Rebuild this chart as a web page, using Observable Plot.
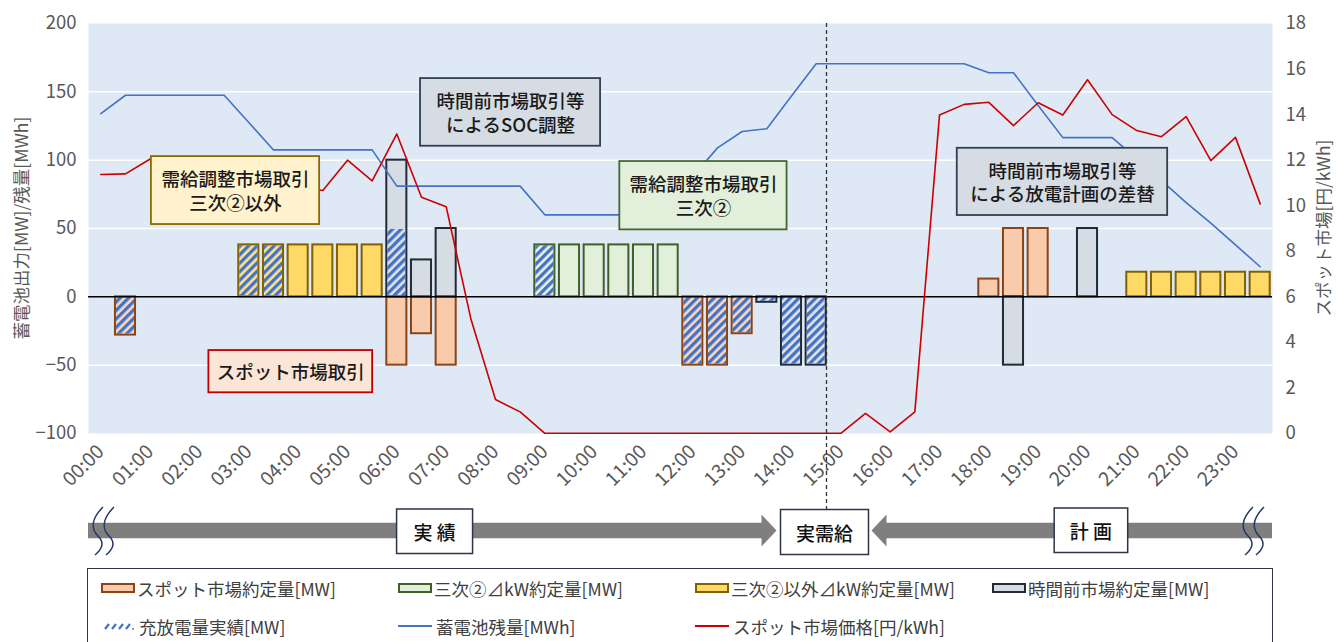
<!DOCTYPE html>
<html><head><meta charset="utf-8">
<script src="https://cdn.jsdelivr.net/npm/d3@7"></script>
<script src="https://cdn.jsdelivr.net/npm/@observablehq/plot@0.6"></script>
<style>
body{margin:0;background:#fff;font-family:"Noto Sans CJK JP","Noto Sans",sans-serif;}
#wrap{position:relative;width:1343px;height:642px;overflow:hidden;background:#fff;}
#chart{position:absolute;left:0;top:0;}
#legend{position:absolute;left:87px;top:568px;width:1186px;height:100px;border:1.5px solid #2b3545;box-sizing:border-box;}
.item{position:absolute;display:flex;align-items:center;height:24px;font-size:17.5px;color:#404040;white-space:nowrap;}
.sw{width:34px;height:10px;box-sizing:border-box;border:2.5px solid;margin-right:2px;}
</style></head><body><div id="wrap"><div id="chart"></div><div id="legend"></div></div>
<script>
// ---- data ----
const times = ["00:00","00:30","01:00","01:30","02:00","02:30","03:00","03:30","04:00","04:30","05:00","05:30",
"06:00","06:30","07:00","07:30","08:00","08:30","09:00","09:30","10:00","10:30","11:00","11:30",
"12:00","12:30","13:00","13:30","14:00","14:30","15:00","15:30","16:00","16:30","17:00","17:30",
"18:00","18:30","19:00","19:30","20:00","20:30","21:00","21:30","22:00","22:30","23:00","23:30"];

const spotTimes = ["00:30","06:00","06:30","07:00","12:00","12:30","13:00","18:00","18:30","19:00"];
const spotMW    = [-28, -50, -27, -50, -50, -50, -27, 13, 50, 50];

const jikanTimes = ["06:00","06:30","07:00","13:30","14:00","14:30","18:30","20:00"];
const jikanMW    = [100, 27, 50, -4, -50, -50, -50, 50];

const sanjiTimes = ["09:00","09:30","10:00","10:30","11:00","11:30"];
const sanjiMW    = [38, 38, 38, 38, 38, 38];

const igaiTimes = ["03:00","03:30","04:00","04:30","05:00","05:30","21:00","21:30","22:00","22:30","23:00","23:30"];
const igaiMW    = [38, 38, 38, 38, 38, 38, 18, 18, 18, 18, 18, 18];

const actualTimes = ["00:30","03:00","03:30","06:00","09:00","12:00","12:30","13:00","13:30","14:00","14:30"];
const actualMW    = [-28, 38, 38, 50, 38, -50, -50, -27, -4, -50, -50];

const socMWh = [134,147.5,147.5,147.5,147.5,147.5,127.5,107.5,107.5,107.5,107.5,107.5,
81,81,81,81,81,81,60,60,60,60,65,75,
88,109,121,123,147,170.5,170.5,170.5,170.5,170.5,170.5,170.5,
164,164,140,116.5,116.5,116.5,101,85,69,54,38,22];

const priceYen = [11.37,11.4,12.05,11.9,11.6,11.4,11.2,11.0,10.8,10.67,12.0,11.09,
13.15,10.37,9.96,5.04,1.49,0.95,0.01,0.01,0.01,0.01,0.01,0.01,
0.01,0.01,0.01,0.01,0.01,0.01,0.01,0.88,0.07,0.95,13.98,14.45,
14.54,13.52,14.52,13.98,15.53,14.0,13.3,13.03,13.91,11.98,13.0,10.08];

const leftTicks = [-100,-50,0,50,100,150,200];
const priceTicks = [0,2,4,6,8,10,12,14,16,18];

const annotations = [
  {label:"需給調整市場取引\n三次②以外", x1:2.55, x2:9.37, y1:52.9, y2:102.6, fill:"#FFF2CC", stroke:"#8A6A00"},
  {label:"時間前市場取引等\nによるSOC調整", x1:13.46, x2:20.76, y1:110.2, y2:159.7, fill:"#D6DCE4", stroke:"#333F50"},
  {label:"需給調整市場取引\n三次②", x1:21.54, x2:28.32, y1:49, y2:99, fill:"#E2EFDA", stroke:"#44692E"},
  {label:"スポット市場取引", x1:4.88, x2:11.52, y1:-70.2, y2:-39.3, fill:"#FBE5D6", stroke:"#C00000"},
  {label:"時間前市場取引等\nによる放電計画の差替", x1:35.22, x2:43.75, y1:59.5, y2:108.7, fill:"#D6DCE4", stroke:"#333F50"}
];

// ---- helpers ----
const idx = t => times.indexOf(t);
const toLeft = p => -100 + p * 300 / 18;
const bars = (ts, vs) => ts.map((t, k) => ({i: idx(t), v: vs[k]}));
const spot = bars(spotTimes, spotMW);
const jikan = bars(jikanTimes, jikanMW);
const sanji = bars(sanjiTimes, sanjiMW);
const igai = bars(igaiTimes, igaiMW);
const actual = bars(actualTimes, actualMW);
const soc = socMWh.map((v, i) => ({i, v}));
const price = priceYen.map((p, i) => ({i, p}));
const hourTicks = times.map((t, i) => i).filter(i => i % 2 === 0).map(i => i + 0.5);
const gridVals = leftTicks.filter(v => v !== 0 && v !== 200 && v !== -100);

const FONT = '"Noto Sans CJK JP","Noto Sans",sans-serif';
const ins = 2.3;
const barMark = (data, fill, stroke) => Plot.rect(data, {
  x1: d => d.i, x2: d => d.i + 1, y1: () => 0, y2: d => d.v,
  fill, stroke, strokeWidth: 2, insetLeft: ins, insetRight: ins
});

const plot = Plot.plot({
  width: 1343, height: 560,
  marginLeft: 88, marginRight: 71, marginTop: 23, marginBottom: 127,
  style: {fontFamily: FONT, fontSize: "18px", color: "#595959", background: "transparent"},
  x: {domain: [0, times.length], axis: null},
  y: {domain: [-100, 200], axis: null},
  color: {type: "identity"},
  marks: [
    Plot.frame({fill: "#DEE9F5", stroke: null}),
    Plot.ruleY(gridVals, {stroke: "white", strokeWidth: 1.5}),
    Plot.axisY(leftTicks, {anchor: "left", tickSize: 0, tickPadding: 12, fontSize: 18.5, label: null}),
    Plot.axisY(priceTicks.map(toLeft), {anchor: "right", tickSize: 0, tickPadding: 13, fontSize: 18.5, label: null,
      tickFormat: v => String(Math.round((v + 100) * 18 / 300))}),
    Plot.axisX(hourTicks, {anchor: "bottom", tickSize: 0, tickPadding: 15, tickRotate: -45, fontSize: 19.5, label: null,
      tickFormat: d => times[Math.floor(d)]}),
    barMark(spot, "#F8CBAD", "#8C4414"),
    barMark(jikan, "#D6DCE4", "#222A35"),
    barMark(sanji, "#E2EFDA", "#40602A"),
    barMark(igai, "#FFD966", "#806000"),
    Plot.rect(actual, {x1: d => d.i, x2: d => d.i + 1, y1: () => 0, y2: d => d.v,
      fill: "url(#hatch)", insetLeft: ins + 1, insetRight: ins + 1, insetTop: 1, insetBottom: 1}),
    Plot.ruleY([0], {stroke: "#000", strokeWidth: 1.5}),
    Plot.line(soc, {x: d => d.i + 0.5, y: "v", stroke: "#4472C4", strokeWidth: 1.6}),
    Plot.line(price, {x: d => d.i + 0.5, y: d => toLeft(d.p), stroke: "#CC0000", strokeWidth: 1.6}),
    Plot.rect(annotations, {x1: "x1", x2: "x2", y1: "y1", y2: "y2", fill: "fill", stroke: "stroke", strokeWidth: 1.8}),
    Plot.text(annotations, {x: d => (d.x1 + d.x2) / 2, y: d => (d.y1 + d.y2) / 2, text: "label",
      fontSize: 18.5, fill: "#1a1a1a", lineHeight: 1.28, fontWeight: 500})
  ]
});

const svg = d3.select(plot);
const xs = v => plot.scale("x").apply(v);
const ys = v => plot.scale("y").apply(v);

// hatch pattern
const defs = svg.insert("defs", ":first-child");
const pat = defs.append("pattern").attr("id", "hatch").attr("patternUnits", "userSpaceOnUse")
  .attr("width", 6).attr("height", 6).attr("patternTransform", "rotate(45)");
pat.append("rect").attr("width", 6).attr("height", 6).attr("fill", "rgba(255,255,255,0.25)");
pat.append("rect").attr("width", 3.3).attr("height", 6).attr("fill", "#4472C4");

// axis titles
svg.append("text").attr("transform", `translate(20,${(ys(200) + ys(-100)) / 2}) rotate(-90)`)
  .attr("text-anchor", "middle").attr("dominant-baseline", "central")
  .attr("font-size", 17.5).attr("fill", "#595959").attr("font-family", FONT).text("蓄電池出力[MW]/残量[MWh]");
svg.append("text").attr("transform", `translate(1322,${(ys(200) + ys(-100)) / 2}) rotate(-90)`)
  .attr("text-anchor", "middle").attr("dominant-baseline", "central")
  .attr("font-size", 17.5).attr("fill", "#595959").attr("font-family", FONT).text("スポット市場[円/kWh]");

// timeline
const g = svg.append("g");
const x0 = xs(0), x1 = xs(times.length), xb = xs(idx("15:00")) - 1.5;
const yc = 530.5, hb = 7.8, ha = 16;
const leftTip = xb - 50, rightTip = xb + 45;
g.append("polygon").attr("fill", "#7F7F7F").attr("points", [
  [x0, yc - hb], [leftTip - 15, yc - hb], [leftTip - 15, yc - ha], [leftTip, yc], [leftTip - 15, yc + ha], [leftTip - 15, yc + hb], [x0, yc + hb]
].map(p => p.join(",")).join(" "));
g.append("polygon").attr("fill", "#7F7F7F").attr("points", [
  [x1, yc - hb], [rightTip + 15, yc - hb], [rightTip + 15, yc - ha], [rightTip, yc], [rightTip + 15, yc + ha], [rightTip + 15, yc + hb], [x1, yc + hb]
].map(p => p.join(",")).join(" "));
// dashed boundary
g.append("line").attr("x1", xb).attr("x2", xb).attr("y1", ys(200)).attr("y2", 509)
  .attr("stroke", "#333").attr("stroke-width", 1.3).attr("stroke-dasharray", "4,3");
// wavy breaks
function wave(x) {
  return `M${x + 6},507 C${x - 6},519 ${x - 6},529 ${x + 1},536 S${x + 5},549 ${x - 2},555`;
}
[x0 + 9, x0 + 20, x1 - 25, x1 - 14].forEach(x => g.append("path").attr("d", wave(x))
  .attr("fill", "none").attr("stroke", "#1F3864").attr("stroke-width", 1.5));
// boxes
const tboxes = [
  {label: "実 績", cx: xs(14.05), w: 76, y: 509, h: 44.5},
  {label: "実需給", cx: xb - 2, w: 88, y: 509.5, h: 45},
  {label: "計 画", cx: xs(40.66), w: 73.5, y: 508, h: 44.5}
];
tboxes.forEach(b => {
  g.append("rect").attr("x", b.cx - b.w / 2).attr("y", b.y).attr("width", b.w).attr("height", b.h)
    .attr("fill", "#fff").attr("stroke", "#2b3545").attr("stroke-width", 1.5);
  g.append("text").attr("x", b.cx).attr("y", b.y + b.h / 2).attr("text-anchor", "middle")
    .attr("dominant-baseline", "central").attr("font-size", 19).attr("font-weight", 500)
    .attr("fill", "#111").attr("font-family", FONT).attr("xml:space", "preserve").text(b.label);
});

document.getElementById("chart").appendChild(plot);

// legend
const legendItems = [
  {label: "スポット市場約定量[MW]", type: "box", fill: "#F8CBAD", stroke: "#8C4414", col: 0, row: 0},
  {label: "三次②⊿kW約定量[MW]", type: "box", fill: "#E2EFDA", stroke: "#40602A", col: 1, row: 0},
  {label: "三次②以外⊿kW約定量[MW]", type: "box", fill: "#FFD966", stroke: "#806000", col: 2, row: 0},
  {label: "時間前市場約定量[MW]", type: "box", fill: "#D6DCE4", stroke: "#222A35", col: 3, row: 0},
  {label: "充放電量実績[MW]", type: "hatch", col: 0, row: 1},
  {label: "蓄電池残量[MWh]", type: "line", stroke: "#4472C4", col: 1, row: 1},
  {label: "スポット市場価格[円/kWh]", type: "line", stroke: "#CC0000", col: 2, row: 1}
];
const leg = document.getElementById("legend");
legendItems.forEach(it => {
  const d = document.createElement("div");
  d.className = "item";
  d.style.left = (13 + it.col * 297) + "px";
  d.style.top = (7 + it.row * 38) + "px";
  let sw;
  if (it.type === "box") {
    sw = `<div class="sw" style="background:${it.fill};border-color:${it.stroke}"></div>`;
  } else if (it.type === "line") {
    sw = `<svg width="36" height="10" style="margin-right:2px"><line x1="0" x2="34" y1="5" y2="5" stroke="${it.stroke}" stroke-width="2"/></svg>`;
  } else {
    sw = `<svg width="36" height="10" style="margin-right:2px">` +
      [4, 11, 18, 25].map(x => `<line x1="${x}" y1="8" x2="${x + 4}" y2="3" stroke="#4472C4" stroke-width="2.2"/>`).join("") +
      `<circle cx="32" cy="8" r="0.9" fill="#4472C4"/></svg>`;
  }
  d.innerHTML = sw + `<span>${it.label}</span>`;
  leg.appendChild(d);
});
</script></body></html>
